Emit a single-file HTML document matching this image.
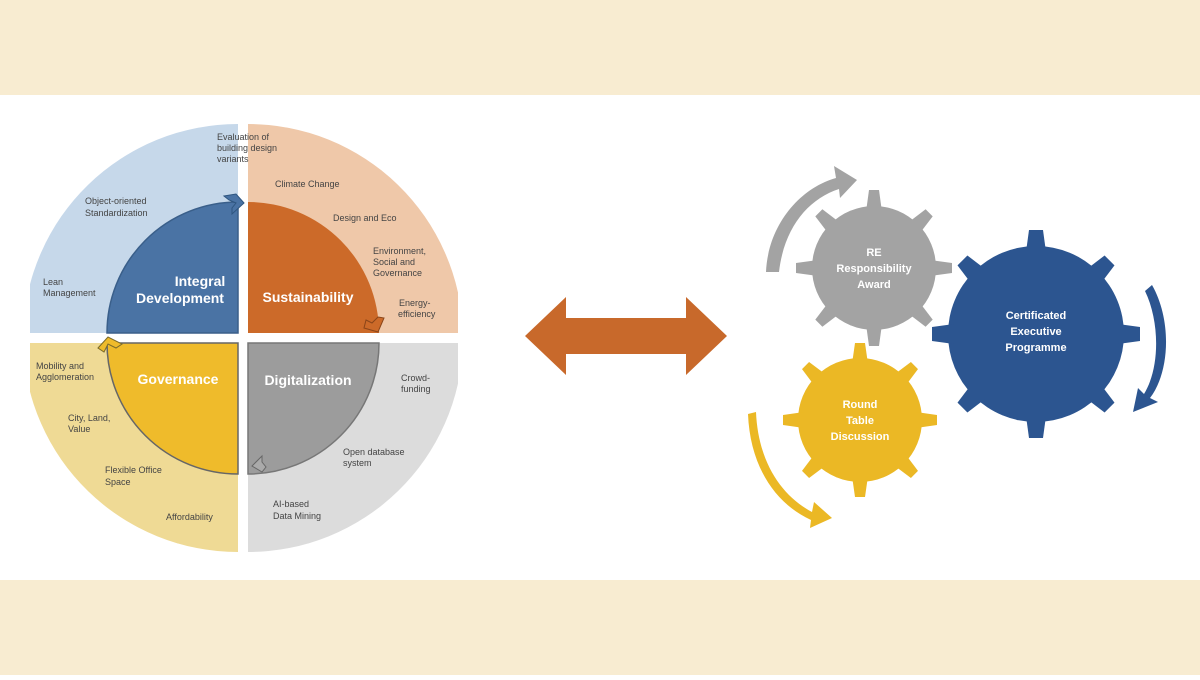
<!DOCTYPE html>
<html><head><meta charset="utf-8"><style>
body{margin:0;width:1200px;height:675px;overflow:hidden;background:#fff;font-family:"Liberation Sans",sans-serif}
</style></head><body>
<svg width="1200" height="675" viewBox="0 0 1200 675" xmlns="http://www.w3.org/2000/svg" font-family="Liberation Sans, sans-serif">
<rect width="1200" height="95" fill="#f8ecd1"/>
<rect y="580" width="1200" height="95" fill="#f8ecd1"/>
<defs>
<clipPath id="cl"><rect x="30" y="100" width="428" height="470"/></clipPath>
</defs>
<g clip-path="url(#cl)">
<path d="M238,333 L238,124 A215,215 0 0 0 23,333 Z" fill="#c6d8ea"/>
<path d="M248,333 L248,124 A215,215 0 0 1 463,333 Z" fill="#efc8a9"/>
<path d="M248,343 L463,343 A215,215 0 0 1 248,552 Z" fill="#dcdcdc"/>
<path d="M238,343 L23,343 A215,215 0 0 0 238,552 Z" fill="#efda95"/>
</g>
<path d="M238,333 L238,202 A131,131 0 0 0 107,333 Z" fill="#4a73a4" stroke="#3a5f8a" stroke-width="1.5"/>
<path d="M248,333 L248,202 A131,131 0 0 1 379,333 Z" fill="#cc6a29"/>
<path d="M248,343 L379,343 A131,131 0 0 1 248,474 Z" fill="#9c9c9c" stroke="#777" stroke-width="1.5"/>
<path d="M238,343 L107,343 A131,131 0 0 0 238,474 Z" fill="#efbb2b" stroke="#666" stroke-width="1.5"/>
<!-- chevrons -->
<path d="M224,196 L236,194 L244,203 L232,214 L232,208 L236,203 L229,200 Z" fill="#4a73a4" stroke="#2f5680" stroke-width="1"/>
<path d="M366,320 L372,323 L378,317 L384,318 L378,332 L364,328 Z" fill="#cc6a29" stroke="#8a4519" stroke-width="1"/>
<path d="M262,456 L262,462 L266,467 L262,472 L252,466 Z" fill="#aaa" stroke="#666" stroke-width="1"/>
<path d="M98,348 L108,337 L122,344 L116,348 L108,344 L104,352 Z" fill="#efbb2b" stroke="#7a6a2a" stroke-width="1"/>
<g font-size="14" font-weight="bold" fill="#fff" text-anchor="middle">
<text x="200" y="286">Integral</text><text x="180" y="303">Development</text>
<text x="308" y="302">Sustainability</text>
<text x="308" y="385">Digitalization</text>
<text x="178" y="384">Governance</text>
</g>
<g font-size="9" fill="#444">
<text x="217" y="140">Evaluation of</text><text x="217" y="151">building design</text><text x="217" y="162">variants</text>
<text x="275" y="187">Climate Change</text>
<text x="333" y="221">Design and Eco</text>
<text x="373" y="254">Environment,</text><text x="373" y="265">Social and</text><text x="373" y="276">Governance</text>
<text x="399" y="306">Energy-</text><text x="398" y="317">efficiency</text>
<text x="85" y="204">Object-oriented</text><text x="85" y="216">Standardization</text>
<text x="43" y="285">Lean</text><text x="43" y="296">Management</text>
<text x="36" y="369">Mobility and</text><text x="36" y="380">Agglomeration</text>
<text x="68" y="421">City, Land,</text><text x="68" y="432">Value</text>
<text x="105" y="473">Flexible Office</text><text x="105" y="485">Space</text>
<text x="166" y="520">Affordability</text>
<text x="401" y="381">Crowd-</text><text x="401" y="392">funding</text>
<text x="343" y="455">Open database</text><text x="343" y="466">system</text>
<text x="273" y="507">AI-based</text><text x="273" y="519">Data Mining</text>
</g>
<!-- double arrow -->
<path d="M525,336 L566,297 L566,318 L686,318 L686,297 L727,336 L686,375 L686,354 L566,354 L566,375 Z" fill="#c8692b"/>
<!-- gears -->
<g fill="#a3a3a3">
<circle cx="874" cy="268" r="62"/>
<g id="tg"><polygon points="866,212 882,212 879,190 869,190"/></g>
<use href="#tg" transform="rotate(45 874 268)"/><use href="#tg" transform="rotate(90 874 268)"/><use href="#tg" transform="rotate(135 874 268)"/><use href="#tg" transform="rotate(180 874 268)"/><use href="#tg" transform="rotate(225 874 268)"/><use href="#tg" transform="rotate(270 874 268)"/><use href="#tg" transform="rotate(315 874 268)"/>
</g>
<g fill="#2c5590">
<circle cx="1036" cy="334" r="88"/>
<g id="tb"><polygon points="1026,252 1046,252 1043,230 1029,230"/></g>
<use href="#tb" transform="rotate(45 1036 334)"/><use href="#tb" transform="rotate(90 1036 334)"/><use href="#tb" transform="rotate(135 1036 334)"/><use href="#tb" transform="rotate(180 1036 334)"/><use href="#tb" transform="rotate(225 1036 334)"/><use href="#tb" transform="rotate(270 1036 334)"/><use href="#tb" transform="rotate(315 1036 334)"/>
</g>
<g fill="#ebb825">
<circle cx="860" cy="420" r="62"/>
<g id="ty"><polygon points="852,364 868,364 865,343 855,343"/></g>
<use href="#ty" transform="rotate(45 860 420)"/><use href="#ty" transform="rotate(90 860 420)"/><use href="#ty" transform="rotate(135 860 420)"/><use href="#ty" transform="rotate(180 860 420)"/><use href="#ty" transform="rotate(225 860 420)"/><use href="#ty" transform="rotate(270 860 420)"/><use href="#ty" transform="rotate(315 860 420)"/>
</g>
<g font-size="11" font-weight="bold" fill="#fff" text-anchor="middle">
<text x="874" y="256">RE</text><text x="874" y="272">Responsibility</text><text x="874" y="288">Award</text>
<text x="1036" y="319">Certificated</text><text x="1036" y="335">Executive</text><text x="1036" y="351">Programme</text>
<text x="860" y="408">Round</text><text x="860" y="424">Table</text><text x="860" y="440">Discussion</text>
</g>
<!-- curved arrows -->
<path d="M766,272 C768,225 800,188 836,178 L834,166 L857,180 L840,198 L839,189 C808,199 784,228 779,272 Z" fill="#a3a3a3"/>
<path d="M1152,285 C1172,320 1170,372 1150,398 L1158,402 L1133,412 L1138,388 L1144,394 C1160,368 1160,322 1145,291 Z" fill="#2c5590"/>
<path d="M756,412 C758,460 780,495 812,512 L814,502 L832,518 L810,528 L811,520 C774,503 750,465 748,414 Z" fill="#ebb825"/>
</svg>
</body></html>
